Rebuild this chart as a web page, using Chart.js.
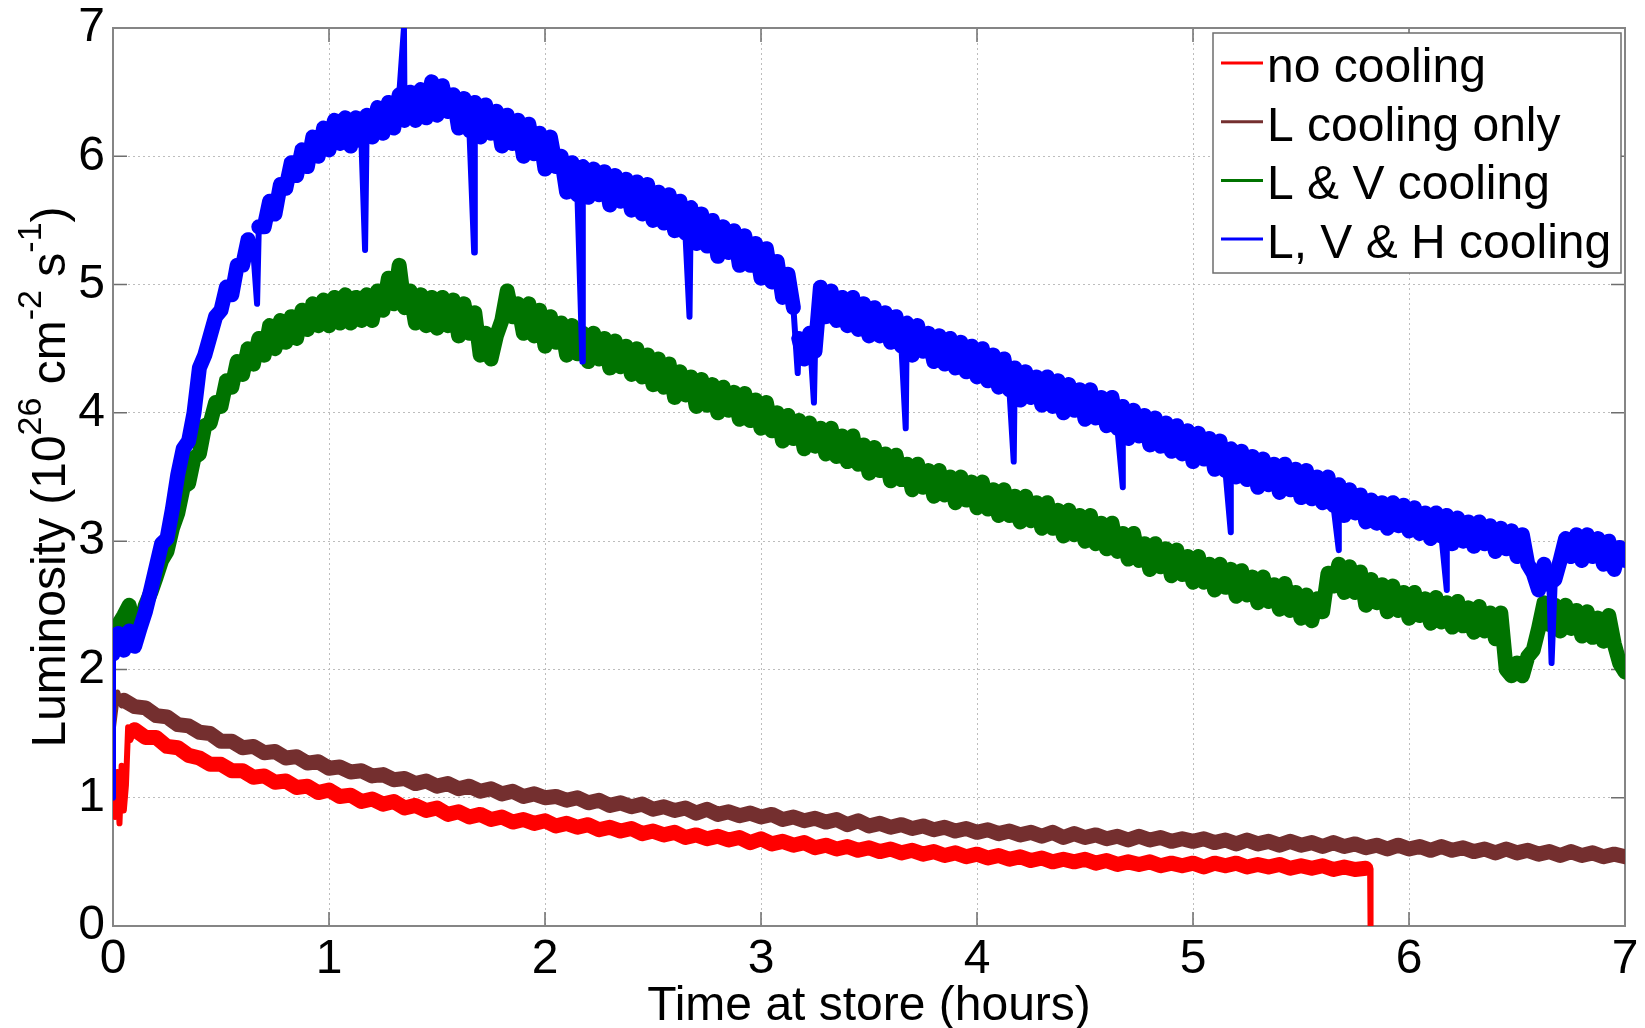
<!DOCTYPE html>
<html>
<head>
<meta charset="utf-8">
<title>Luminosity vs time at store</title>
<script src="https://cdn.jsdelivr.net/npm/chart.js@4.4.1/dist/chart.umd.min.js"></script>
<style>
    html, body { margin: 0; padding: 0; background: #fff; overflow: hidden; }
    #wrap { width: 1645px; height: 1028px; position: relative; }
</style>
</head>
<body>
<div id="wrap"><canvas id="lumi-chart"></canvas></div>
<script>
/* ---------- data (hours / 1e26 cm^-2 s^-1) ---------- */

const seriesNames = ['no cooling', 'L cooling only', 'L & V cooling', 'L, V & H cooling'];
const axisTicks = [0, 1, 2, 3, 4, 5, 6, 7];

// blue and green are sampled every 0.025 h from 0 to 7 h
const fineStep = 0.025;
// red is sampled every 0.05 h from 0.10 h, brown every 0.05 h from 0.05 h
const coarseStep = 0.05;

// L, V & H cooling (blue)
const lvhLum = [
    2.12, 2.28, 2.15, 2.30,   // 0.0
    2.18, 2.32, 2.45, 2.62,   // 0.1
    2.80, 2.98, 3.02, 3.25,   // 0.2
    3.52, 3.72, 3.78, 4.00,   // 0.3
    4.35, 4.45, 4.60, 4.75,   // 0.4
    4.80, 4.98, 4.92, 5.15,   // 0.5
    5.15, 5.35, 5.25, 5.45,   // 0.6
    5.45, 5.65, 5.55, 5.78,   // 0.7
    5.75, 5.95, 5.85, 6.05,   // 0.8
    5.92, 6.15, 6.00, 6.22,   // 0.9
    6.05, 6.28, 6.10, 6.30,   // 1.0
    6.08, 6.30, 6.12, 6.32,   // 1.1
    6.15, 6.38, 6.18, 6.42,   // 1.2
    6.22, 6.48, 6.28, 6.50,   // 1.3
    6.28, 6.52, 6.30, 6.58,   // 1.4
    6.32, 6.55, 6.35, 6.48,   // 1.5
    6.22, 6.45, 6.20, 6.42,   // 1.6
    6.15, 6.40, 6.18, 6.35,   // 1.7
    6.08, 6.32, 6.10, 6.28,   // 1.8
    6.00, 6.25, 6.02, 6.18,   // 1.9
    5.90, 6.15, 5.92, 6.00,   // 2.0
    5.72, 5.95, 5.70, 5.92,   // 2.1
    5.68, 5.90, 5.70, 5.88,   // 2.2
    5.62, 5.85, 5.65, 5.82,   // 2.3
    5.58, 5.80, 5.55, 5.78,   // 2.4
    5.50, 5.72, 5.48, 5.70,   // 2.5
    5.42, 5.65, 5.40, 5.60,   // 2.6
    5.32, 5.55, 5.30, 5.50,   // 2.7
    5.22, 5.45, 5.25, 5.42,   // 2.8
    5.15, 5.38, 5.15, 5.32,   // 2.9
    5.05, 5.28, 5.02, 5.18,   // 3.0
    4.90, 5.08, 4.82, 4.58,   // 3.1
    4.42, 4.62, 4.48, 4.98,   // 3.2
    4.75, 4.95, 4.72, 4.90,   // 3.3
    4.68, 4.90, 4.65, 4.85,   // 3.4
    4.60, 4.82, 4.60, 4.78,   // 3.5
    4.55, 4.75, 4.52, 4.70,   // 3.6
    4.45, 4.68, 4.48, 4.62,   // 3.7
    4.40, 4.60, 4.38, 4.58,   // 3.8
    4.35, 4.55, 4.32, 4.52,   // 3.9
    4.28, 4.50, 4.25, 4.45,   // 4.0
    4.20, 4.42, 4.18, 4.35,   // 4.1
    4.10, 4.32, 4.12, 4.28,   // 4.2
    4.06, 4.28, 4.05, 4.25,   // 4.3
    4.00, 4.22, 4.02, 4.18,   // 4.4
    3.95, 4.18, 3.96, 4.12,   // 4.5
    3.90, 4.12, 3.88, 4.05,   // 4.6
    3.80, 4.02, 3.82, 3.98,   // 4.7
    3.75, 3.96, 3.74, 3.92,   // 4.8
    3.70, 3.90, 3.68, 3.86,   // 4.9
    3.62, 3.84, 3.64, 3.80,   // 5.0
    3.56, 3.78, 3.55, 3.72,   // 5.1
    3.50, 3.70, 3.48, 3.66,   // 5.2
    3.42, 3.64, 3.44, 3.60,   // 5.3
    3.38, 3.60, 3.40, 3.56,   // 5.4
    3.34, 3.55, 3.33, 3.50,   // 5.5
    3.30, 3.50, 3.28, 3.44,   // 5.6
    3.20, 3.40, 3.22, 3.36,   // 5.7
    3.15, 3.32, 3.14, 3.30,   // 5.8
    3.10, 3.30, 3.12, 3.28,   // 5.9
    3.08, 3.26, 3.06, 3.22,   // 6.0
    3.02, 3.22, 3.04, 3.20,   // 6.1
    2.98, 3.18, 3.00, 3.15,   // 6.2
    2.96, 3.15, 2.98, 3.12,   // 6.3
    2.92, 3.10, 2.94, 3.08,   // 6.4
    2.88, 3.05, 2.82, 2.75,   // 6.5
    2.62, 2.82, 2.66, 2.70,   // 6.6
    2.85, 3.02, 2.88, 3.05,   // 6.7
    2.85, 3.05, 2.88, 3.02,   // 6.8
    2.82, 3.00, 2.78, 2.95,   // 6.9
    2.85                      // 7.0
];
// start-up jump and the short dips / one spike of the blue trace
const lvhEventT = [0, 0.667, 1.167, 1.347, 1.672, 2.173, 2.669, 3.170, 3.245, 3.670, 4.170, 4.675, 5.175, 5.675, 6.175, 6.660];
const lvhEventL = [1.00, 4.85, 5.27, 7.00, 5.25, 4.40, 4.75, 4.31, 4.08, 3.88, 3.62, 3.42, 3.07, 2.93, 2.62, 2.05];

// L & V cooling (green)
const lvLum = [
    2.15, 2.35, 2.42, 2.50,   // 0.0
    2.28, 2.35, 2.50, 2.60,   // 0.1
    2.72, 2.85, 2.92, 3.10,   // 0.2
    3.22, 3.42, 3.45, 3.65,   // 0.3
    3.68, 3.90, 3.92, 4.08,   // 0.4
    4.05, 4.25, 4.20, 4.40,   // 0.5
    4.30, 4.50, 4.38, 4.58,   // 0.6
    4.45, 4.68, 4.50, 4.72,   // 0.7
    4.55, 4.75, 4.58, 4.80,   // 0.8
    4.65, 4.85, 4.68, 4.88,   // 0.9
    4.68, 4.90, 4.70, 4.92,   // 1.0
    4.70, 4.90, 4.72, 4.92,   // 1.1
    4.72, 4.95, 4.80, 5.05,   // 1.2
    4.85, 5.15, 4.82, 4.95,   // 1.3
    4.70, 4.92, 4.68, 4.90,   // 1.4
    4.66, 4.90, 4.68, 4.88,   // 1.5
    4.60, 4.85, 4.62, 4.78,   // 1.6
    4.45, 4.62, 4.42, 4.60,   // 1.7
    4.72, 4.95, 4.75, 4.85,   // 1.8
    4.62, 4.85, 4.60, 4.80,   // 1.9
    4.52, 4.75, 4.55, 4.70,   // 2.0
    4.45, 4.68, 4.46, 4.62,   // 2.1
    4.40, 4.62, 4.42, 4.58,   // 2.2
    4.35, 4.56, 4.36, 4.52,   // 2.3
    4.30, 4.50, 4.28, 4.45,   // 2.4
    4.22, 4.42, 4.20, 4.38,   // 2.5
    4.12, 4.32, 4.14, 4.28,   // 2.6
    4.05, 4.26, 4.06, 4.22,   // 2.7
    4.00, 4.20, 4.02, 4.16,   // 2.8
    3.95, 4.15, 3.94, 4.10,   // 2.9
    3.88, 4.08, 3.86, 4.00,   // 3.0
    3.78, 3.98, 3.80, 3.94,   // 3.1
    3.72, 3.92, 3.74, 3.88,   // 3.2
    3.68, 3.88, 3.66, 3.82,   // 3.3
    3.62, 3.82, 3.60, 3.75,   // 3.4
    3.53, 3.73, 3.55, 3.68,   // 3.5
    3.47, 3.67, 3.48, 3.60,   // 3.6
    3.40, 3.60, 3.42, 3.55,   // 3.7
    3.35, 3.55, 3.36, 3.50,   // 3.8
    3.30, 3.50, 3.32, 3.46,   // 3.9
    3.26, 3.46, 3.25, 3.40,   // 4.0
    3.20, 3.40, 3.20, 3.35,   // 4.1
    3.15, 3.35, 3.16, 3.30,   // 4.2
    3.10, 3.30, 3.10, 3.24,   // 4.3
    3.04, 3.24, 3.05, 3.20,   // 4.4
    3.00, 3.20, 2.98, 3.14,   // 4.5
    2.94, 3.14, 2.92, 3.06,   // 4.6
    2.86, 3.06, 2.85, 2.98,   // 4.7
    2.78, 2.98, 2.80, 2.94,   // 4.8
    2.73, 2.93, 2.74, 2.88,   // 4.9
    2.68, 2.88, 2.68, 2.82,   // 5.0
    2.62, 2.82, 2.64, 2.78,   // 5.1
    2.57, 2.77, 2.58, 2.72,   // 5.2
    2.52, 2.72, 2.53, 2.66,   // 5.3
    2.47, 2.67, 2.46, 2.60,   // 5.4
    2.40, 2.58, 2.38, 2.55,   // 5.5
    2.45, 2.75, 2.65, 2.82,   // 5.6
    2.60, 2.80, 2.60, 2.76,   // 5.7
    2.50, 2.70, 2.52, 2.66,   // 5.8
    2.45, 2.65, 2.46, 2.60,   // 5.9
    2.40, 2.60, 2.42, 2.55,   // 6.0
    2.36, 2.56, 2.37, 2.52,   // 6.1
    2.33, 2.53, 2.34, 2.48,   // 6.2
    2.29, 2.49, 2.30, 2.44,   // 6.3
    2.24, 2.44, 2.00, 1.95,   // 6.4
    2.05, 1.95, 2.10, 2.15,   // 6.5
    2.32, 2.52, 2.35, 2.50,   // 6.6
    2.30, 2.50, 2.32, 2.46,   // 6.7
    2.26, 2.45, 2.25, 2.40,   // 6.8
    2.22, 2.42, 2.20, 2.05,   // 6.9
    1.98                      // 7.0
];
const lvEventT = [0];
const lvEventL = [2.00];

// no cooling (red), 0.10 h .. 5.80 h
const noneLum = [
    1.53, 1.47, 1.47, 1.40, 1.39, 1.33, 1.31, 1.26, 1.26, 1.21,   // 0.10
    1.21, 1.16, 1.17, 1.12, 1.13, 1.08, 1.09, 1.04, 1.06, 1.01,   // 0.60
    1.02, 0.97, 0.99, 0.95, 0.97, 0.92, 0.94, 0.90, 0.92, 0.87,   // 1.10
    0.89, 0.85, 0.87, 0.83, 0.85, 0.81, 0.83, 0.80, 0.82, 0.78,   // 1.60
    0.80, 0.77, 0.79, 0.75, 0.77, 0.74, 0.76, 0.72, 0.74, 0.71,   // 2.10
    0.73, 0.69, 0.71, 0.68, 0.70, 0.67, 0.69, 0.65, 0.68, 0.64,   // 2.60
    0.66, 0.63, 0.65, 0.61, 0.63, 0.60, 0.62, 0.59, 0.61, 0.58,   // 3.10
    0.60, 0.57, 0.59, 0.56, 0.58, 0.55, 0.57, 0.54, 0.56, 0.53,   // 3.60
    0.55, 0.52, 0.54, 0.51, 0.53, 0.50, 0.52, 0.50, 0.52, 0.49,   // 4.10
    0.51, 0.48, 0.50, 0.48, 0.50, 0.47, 0.49, 0.47, 0.49, 0.46,   // 4.60
    0.49, 0.47, 0.49, 0.46, 0.48, 0.46, 0.48, 0.45, 0.47, 0.45,   // 5.10
    0.47, 0.44, 0.46, 0.44, 0.45                                  // 5.60
];
// noisy start and the end of the store at 5.82 h
const noneEventT = [0, 0.01, 0.02, 0.03, 0.04, 0.05, 0.06, 0.07, 0.08, 5.820, 5.822];
const noneEventL = [1.00, 0.85, 1.20, 0.80, 1.25, 0.90, 1.10, 1.55, 1.45, 0.44, 0.00];

// L cooling only (brown), 0.05 h .. 7.00 h
const lOnlyLum = [
    1.76, 1.71, 1.70, 1.64, 1.63, 1.57, 1.56, 1.51, 1.50, 1.44,   // 0.05
    1.44, 1.39, 1.40, 1.35, 1.36, 1.31, 1.32, 1.27, 1.28, 1.23,   // 0.55
    1.24, 1.20, 1.21, 1.17, 1.18, 1.14, 1.15, 1.11, 1.13, 1.09,   // 1.05
    1.11, 1.07, 1.09, 1.05, 1.07, 1.03, 1.05, 1.01, 1.03, 1.00,   // 1.55
    1.01, 0.98, 1.00, 0.96, 0.98, 0.94, 0.96, 0.93, 0.95, 0.91,   // 2.05
    0.93, 0.90, 0.92, 0.88, 0.91, 0.87, 0.89, 0.86, 0.88, 0.85,   // 2.55
    0.87, 0.83, 0.85, 0.82, 0.84, 0.81, 0.83, 0.79, 0.82, 0.78,   // 3.05
    0.80, 0.77, 0.79, 0.76, 0.78, 0.75, 0.77, 0.74, 0.76, 0.73,   // 3.55
    0.75, 0.72, 0.74, 0.71, 0.73, 0.70, 0.73, 0.69, 0.72, 0.69,   // 4.05
    0.71, 0.68, 0.70, 0.67, 0.70, 0.67, 0.69, 0.66, 0.68, 0.66,   // 4.55
    0.68, 0.65, 0.67, 0.64, 0.67, 0.64, 0.66, 0.63, 0.66, 0.63,   // 5.05
    0.65, 0.62, 0.65, 0.62, 0.64, 0.61, 0.63, 0.60, 0.63, 0.60,   // 5.55
    0.62, 0.59, 0.62, 0.59, 0.61, 0.58, 0.60, 0.57, 0.60, 0.57,   // 6.05
    0.59, 0.56, 0.58, 0.55, 0.58, 0.55, 0.57, 0.54, 0.56, 0.54    // 6.55
];
const lOnlyEventT = [0, 0.02, 0.04];
const lOnlyEventL = [1.55, 1.82, 1.72];

/* ---------- look ---------- */

const FONT = '"Liberation Sans", Arial, Helvetica, sans-serif';
const COLORS = ['#ff0000', '#742f2f', '#007300', '#0000ff'];

Chart.defaults.font.family = FONT;
Chart.defaults.color = '#000';

// regular samples + extra read points (flagged), merged in time order
function buildPoints(t0, step, values, extraT, extraL) {
    const pts = extraT.map((t, i) => ({ x: t, y: extraL[i], ev: true }));
    values.forEach((v, i) => pts.push({ x: +(t0 + i * step).toFixed(4), y: v }));
    return pts.sort((a, b) => a.x - b.x);
}

// thick noisy band, thinner strokes for the short dips / jumps
function makeDataset(i, points, bandWidth, order) {
    return {
        label: seriesNames[i],
        data: points,
        borderColor: COLORS[i],
        borderWidth: bandWidth,
        order,
        pointRadius: 0,
        tension: 0,
        fill: false,
        borderJoinStyle: 'round',
        borderCapStyle: 'round',
        segment: {
            borderWidth: c => (points[c.p0DataIndex].ev || points[c.p1DataIndex].ev ? 6 : undefined)
        }
    };
}

const frameAndTicks = {
    id: 'frameAndTicks',
    beforeDatasetsDraw(chart) {
        const { ctx, chartArea: a, scales: { x, y } } = chart;
        ctx.save();
        ctx.strokeStyle = '#6e6e6e';
        ctx.lineWidth = 1.5;
        ctx.beginPath();
        x.ticks.forEach(t => {
            const px = x.getPixelForValue(t.value);
            ctx.moveTo(px, a.bottom); ctx.lineTo(px, a.bottom - 14);
            ctx.moveTo(px, a.top); ctx.lineTo(px, a.top + 14);
        });
        y.ticks.forEach(t => {
            const py = y.getPixelForValue(t.value);
            ctx.moveTo(a.left, py); ctx.lineTo(a.left + 14, py);
            ctx.moveTo(a.right, py); ctx.lineTo(a.right - 14, py);
        });
        ctx.stroke();
        ctx.strokeStyle = '#858585';
        ctx.lineWidth = 2;
        ctx.strokeRect(a.left, a.top, a.right - a.left, a.bottom - a.top);
        ctx.restore();
    }
};

function drawRich(ctx, parts, big, small, rise) {
    const widthOf = p => {
        ctx.font = (p.sup ? small : big) + 'px ' + FONT;
        return ctx.measureText(p.text).width;
    };
    const total = parts.reduce((s, p) => s + widthOf(p), 0);
    let cx = -total / 2;
    parts.forEach(p => {
        ctx.font = (p.sup ? small : big) + 'px ' + FONT;
        ctx.fillText(p.text, cx, p.sup ? -rise : 0);
        cx += ctx.measureText(p.text).width;
    });
}

const titlesAndLegend = {
    id: 'titlesAndLegend',
    afterDraw(chart) {
        const { ctx, chartArea: a } = chart;
        ctx.save();
        ctx.fillStyle = '#000';
        ctx.textBaseline = 'alphabetic';
        ctx.textAlign = 'left';

        // y title, rotated, with superscripts
        ctx.save();
        ctx.translate(65, (a.top + a.bottom) / 2);
        ctx.rotate(-Math.PI / 2);
        drawRich(ctx, [
            { text: 'Luminosity (10' }, { text: '26', sup: true },
            { text: ' cm' }, { text: '-2', sup: true },
            { text: ' s' }, { text: '-1', sup: true },
            { text: ')' }
        ], 48, 34, 24);
        ctx.restore();

        // x title
        ctx.font = '48px ' + FONT;
        ctx.textAlign = 'center';
        ctx.fillText('Time at store (hours)', (a.left + a.right) / 2, 1020);
        ctx.textAlign = 'left';

        // legend box
        const bx = 1213, by = 33, bw = 408, bh = 240;
        ctx.fillStyle = '#fff';
        ctx.fillRect(bx, by, bw, bh);
        ctx.strokeStyle = '#6e6e6e';
        ctx.lineWidth = 1.5;
        ctx.strokeRect(bx, by, bw, bh);
        ctx.font = '48px ' + FONT;
        seriesNames.forEach((name, i) => {
            const base = 82 + i * 58.7;
            ctx.strokeStyle = COLORS[i];
            ctx.lineWidth = 3;
            ctx.beginPath();
            ctx.moveTo(1221, base - 19);
            ctx.lineTo(1263, base - 19);
            ctx.stroke();
            ctx.fillStyle = '#000';
            ctx.fillText(name, 1267, base);
        });
        ctx.restore();
    }
};

const datasets = [
    makeDataset(0, buildPoints(0.10, coarseStep, noneLum, noneEventT, noneEventL), 15, 4),
    makeDataset(1, buildPoints(0.05, coarseStep, lOnlyLum, lOnlyEventT, lOnlyEventL), 15, 3),
    makeDataset(2, buildPoints(0, fineStep, lvLum, lvEventT, lvEventL), 15, 2),
    makeDataset(3, buildPoints(0, fineStep, lvhLum, lvhEventT, lvhEventL), 15, 1)
];

new Chart(document.getElementById('lumi-chart'), {
    type: 'line',
    data: { datasets },
    options: {
        responsive: true,
        maintainAspectRatio: false,
        animation: false,
        devicePixelRatio: 1,
        events: [],
        layout: { padding: { left: 0, right: 20, top: 28, bottom: 0 } },
        plugins: {
            legend: { display: false },
            tooltip: { enabled: false }
        },
        scales: {
            x: {
                type: 'linear',
                min: axisTicks[0],
                max: axisTicks[axisTicks.length - 1],
                afterBuildTicks: s => { s.ticks = axisTicks.map(v => ({ value: v })); },
                ticks: { font: { size: 48 }, color: '#000', padding: 5, maxRotation: 0, autoSkip: false },
                grid: { color: '#bdbdbd', lineWidth: 1, drawTicks: false },
                border: { display: false, dash: [2, 3] },
                afterFit: s => { s.height = 102; s.paddingLeft = 0; s.paddingRight = 0; }
            },
            y: {
                min: 0,
                max: 7,
                afterBuildTicks: s => { s.ticks = axisTicks.map(v => ({ value: v })); },
                ticks: { font: { size: 48 }, color: '#000', padding: 8 },
                grid: { color: '#bdbdbd', lineWidth: 1, drawTicks: false },
                border: { display: false, dash: [2, 3] },
                afterFit: s => { s.width = 113; s.paddingTop = 0; s.paddingBottom = 0; }
            }
        }
    },
    plugins: [frameAndTicks, titlesAndLegend]
});
</script>
</body>
</html>
